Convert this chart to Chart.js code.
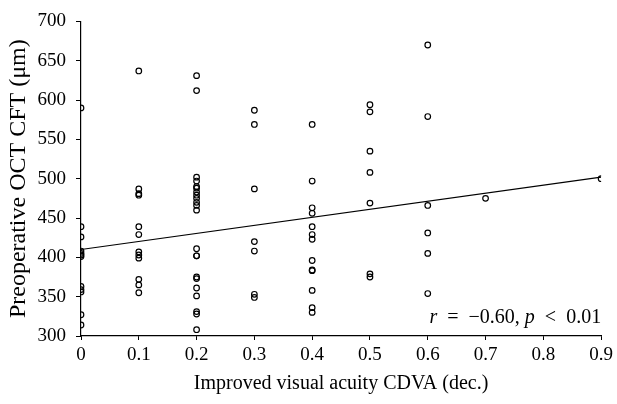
<!DOCTYPE html>
<html>
<head>
<meta charset="utf-8">
<script src="https://cdn.jsdelivr.net/npm/chart.js@4"></script>
<style>
  html, body { margin: 0; padding: 0; background: #fff; }
  #wrap { width: 617px; height: 404px; }
</style>
</head>
<body>
<div id="wrap"><canvas id="scatter" width="617" height="404"></canvas></div>
<script>
// Improved CDVA (decimal) levels and the preoperative CFT values measured at each level
const acuityLevels = [0, 0.1, 0.2, 0.3, 0.4, 0.5, 0.6, 0.7, 0.9];
const cftValues = [
    [590, 439, 426, 408, 405, 403, 401, 363, 359, 356, 327, 314],
    [637, 487, 481, 479, 439, 429, 407, 403, 399, 372, 365, 355],
    [631, 612, 502, 497, 490, 488, 483, 479, 475, 470, 466, 460, 411, 402, 402, 375, 373, 361, 351, 331, 328, 308],
    [587, 569, 487, 420, 408, 353, 349],
    [569, 497, 463, 456, 439, 429, 423, 396, 384, 383, 358, 336, 330],
    [594, 585, 535, 508, 469, 379, 375],
    [670, 579, 466, 431, 405, 354],
    [475],
    [500]
];

// Regression line end points
const trendX = [0, 0.9];
const trendY = [410, 502];

const yTickMin = 300, yTickMax = 700, yTickStep = 50;
const xTickMin = 0, xTickMax = 0.9, xTickStep = 0.1;

const yTitle = 'Preoperative OCT CFT (\u03bcm)';
const xTitle = 'Improved visual acuity CDVA (dec.)';

const serif = '"Liberation Serif", "DejaVu Serif", serif';

// Build points from the arrays
const points = [];
acuityLevels.forEach((level, i) => {
    cftValues[i].forEach(v => points.push({ x: level, y: v }));
});
const trendPoints = trendX.map((x, i) => ({ x: x, y: trendY[i] }));

// Plugin: the correlation note in the lower right corner
const statsNote = {
    id: 'statsNote',
    afterDraw(chart) {
        const ctx = chart.ctx;
        const area = chart.chartArea;
        const parts = [
            ['italic', 'r'], ['normal', '\u2002=\u2002\u22120.60, '], ['italic', 'p'], ['normal', '\u2002<\u20020.01']
        ];
        ctx.save();
        ctx.fillStyle = '#000';
        ctx.textBaseline = 'alphabetic';
        let total = 0;
        parts.forEach(p => {
            ctx.font = p[0] + ' 20px ' + serif;
            total += ctx.measureText(p[1]).width;
        });
        let x = area.right - total;
        const y = area.bottom - 13;
        parts.forEach(p => {
            ctx.font = p[0] + ' 20px ' + serif;
            ctx.fillText(p[1], x, y);
            x += ctx.measureText(p[1]).width;
        });
        ctx.restore();
    }
};

new Chart(document.getElementById('scatter'), {
    type: 'scatter',
    data: {
        datasets: [
            {
                label: 'CFT',
                data: points,
                pointStyle: 'circle',
                pointRadius: 2.8,
                pointBorderWidth: 1.2,
                pointBorderColor: '#000',
                pointBackgroundColor: 'rgba(0,0,0,0)'
            },
            {
                type: 'line',
                label: 'Trend',
                data: trendPoints,
                borderColor: '#000',
                borderWidth: 1.2,
                pointRadius: 0,
                fill: false
            }
        ]
    },
    options: {
        responsive: false,
        animation: false,
        devicePixelRatio: 1,
        layout: { padding: { top: 13, right: 13, left: 0, bottom: 8 } },
        plugins: {
            legend: { display: false },
            tooltip: { enabled: false }
        },
        scales: {
            x: {
                type: 'linear',
                min: xTickMin,
                max: xTickMax,
                afterFit(scale) { scale.height = 60; },
                border: { display: true, color: '#000', width: 1.2 },
                grid: { display: true, drawOnChartArea: false, drawTicks: true, tickLength: 4, color: '#000', lineWidth: 1 },
                ticks: {
                    stepSize: xTickStep,
                    padding: 4,
                    color: '#000',
                    font: { family: serif, size: 19 },
                    callback: v => (Math.abs(v) < 1e-9 ? '0' : v.toFixed(1))
                },
                title: {
                    display: true,
                    text: xTitle,
                    color: '#000',
                    font: { family: serif, size: 20 },
                    padding: { top: 2, bottom: 0 }
                }
            },
            y: {
                type: 'linear',
                min: yTickMin,
                max: yTickMax,
                afterFit(scale) { scale.width = 81; },
                border: { display: true, color: '#000', width: 1.2 },
                grid: { display: true, drawOnChartArea: false, drawTicks: true, tickLength: 5, color: '#000', lineWidth: 1 },
                ticks: {
                    stepSize: yTickStep,
                    padding: 10,
                    color: '#000',
                    font: { family: serif, size: 19 }
                },
                title: {
                    display: true,
                    text: yTitle,
                    color: '#000',
                    font: { family: serif, size: 24 },
                    padding: { top: 4, bottom: 0 }
                }
            }
        }
    },
    plugins: [statsNote]
});
</script>
</body>
</html>
